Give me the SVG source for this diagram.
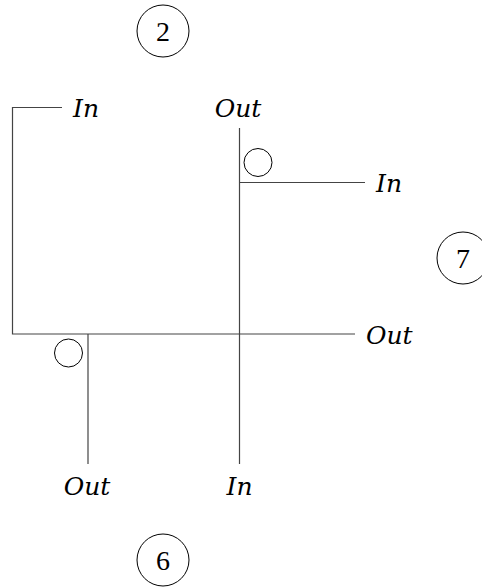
<svg xmlns="http://www.w3.org/2000/svg" width="482" height="587" viewBox="0 0 482 587">
<style>
.w{fill:none;stroke:#444;stroke-width:1.2}
.c{fill:#fff;stroke:#000;stroke-width:1}
.lbl{font-family:"DejaVu Serif","Liberation Serif",serif;font-style:italic;font-size:25px;fill:#000}
.num{font-family:"Liberation Serif","DejaVu Serif",serif;font-size:28px;fill:#000;text-anchor:middle}
</style>
<rect width="482" height="587" fill="#fff"/>
<g id="connectors">
<path class="w" d="M62,107.5 H12.5 V334 H355"/>
<path class="w" d="M239.5,128 V464"/>
<path class="w" d="M239.5,182.5 H365"/>
<path class="w" d="M88,334 V464"/>
</g>
<g id="node-2"><circle class="c" cx="163" cy="31" r="26"/><text class="num" x="163" y="41">2</text></g>
<g id="node-7"><circle class="c" cx="463" cy="258" r="26"/><text class="num" x="463" y="268">7</text></g>
<g id="node-6"><circle class="c" cx="163" cy="560" r="26"/><text class="num" x="163" y="570">6</text></g>
<g id="bubble-top"><circle class="c" cx="258" cy="162.5" r="14"/></g>
<g id="bubble-left"><circle class="c" cx="68.5" cy="353" r="14"/></g>
<g id="labels">
<text class="lbl" x="73" y="117">In</text>
<text class="lbl" x="238" y="117" text-anchor="middle">Out</text>
<text class="lbl" x="376" y="192">In</text>
<text class="lbl" x="366" y="344">Out</text>
<text class="lbl" x="87" y="495" text-anchor="middle">Out</text>
<text class="lbl" x="239.5" y="495" text-anchor="middle">In</text>
</g>
</svg>
